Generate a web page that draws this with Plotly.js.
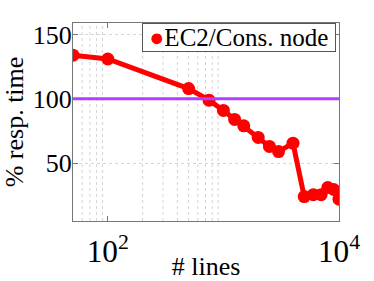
<!DOCTYPE html>
<html>
<head>
<meta charset="utf-8">
<script src="https://cdn.plot.ly/plotly-3.0.1.min.js"></script>
<style>
  html, body { margin: 0; padding: 0; background: #fff; }
  #chart { width: 374px; height: 281px; }
</style>
</head>
<body>
<div id="chart"></div>
<script>
// # lines vs. % response time (EC2 / Cons. node)
const nLines = [50, 100, 500, 750, 1000, 1250, 1500, 2000, 2500, 3000, 4000, 5000, 6000, 7000, 8000, 9000, 10000];
const respPct = [134, 131, 108, 99, 91, 84, 79, 70, 63, 59, 65.5, 24, 25.5, 25.5, 31, 29.5, 22];
const seriesName = "EC2/Cons. node";
const baseline = 100;
// dotted minor grid only drawn over the first decades, like the original
const minorGridX = [60, 70, 80, 90, 200, 300, 400, 500, 600, 700, 800, 900];

const FONT = "'Liberation Serif', 'Times New Roman', Times, serif";
const RED = "#ff0000";
const PURPLE = "#b040ff";

const traces = [
  {
    x: nLines,
    y: respPct,
    name: seriesName,
    mode: "lines+markers",
    line: { color: RED, width: 5 },
    marker: { color: RED, size: 13 },
    showlegend: false,
  },
];

const shapes = minorGridX.map((x) => ({
  type: "line",
  xref: "x",
  yref: "paper",
  x0: x,
  x1: x,
  y0: 0,
  y1: 1,
  layer: "below",
  line: { color: "#d4d4d4", width: 1, dash: "dot" },
}));
shapes.push({
  type: "line",
  xref: "paper",
  yref: "y",
  x0: 0,
  x1: 1,
  y0: baseline,
  y1: baseline,
  line: { color: PURPLE, width: 3 },
});

// compact legend box (plotly's own legend is too tall here)
const legendBox = {
  xref: "paper",
  yref: "paper",
  x: 0.99,
  y: 1,
  xanchor: "right",
  yanchor: "top",
  showarrow: false,
  text: `&nbsp;<span style="color:${RED}">●</span>${seriesName}&nbsp;`,
  font: { family: FONT, size: 25, color: "#000" },
  bgcolor: "#fff",
  bordercolor: "#555",
  borderwidth: 1,
  borderpad: 0,
};

const layout = {
  width: 374,
  height: 281,
  margin: { l: 73, r: 35, t: 23, b: 60 },
  paper_bgcolor: "#fff",
  plot_bgcolor: "#fff",
  font: { family: FONT, size: 24, color: "#000" },
  showlegend: false,
  xaxis: {
    type: "log",
    range: [Math.log10(50), 4],
    dtick: 2,
    tick0: 0,
    exponentformat: "power",
    showgrid: false,
    zeroline: false,
    showline: true,
    mirror: "ticks",
    linecolor: "#777",
    linewidth: 1,
    ticks: "inside",
    ticklen: 5,
    tickcolor: "#777",
    ticklabelstandoff: 4,
    tickfont: { family: FONT, size: 25, color: "#000" },
    title: { text: "# lines", font: { family: FONT, size: 26, color: "#000" }, standoff: 0 },
  },
  yaxis: {
    range: [5, 159],
    tickvals: [50, 100, 150],
    showgrid: true,
    gridcolor: "#d4d4d4",
    griddash: "dot",
    zeroline: false,
    showline: true,
    mirror: "ticks",
    linecolor: "#777",
    linewidth: 1,
    ticks: "inside",
    ticklen: 5,
    tickcolor: "#777",
    ticklabelstandoff: -5,
    tickfont: { family: FONT, size: 26, color: "#000" },
    title: { text: "% resp. time", font: { family: FONT, size: 26, color: "#000" }, standoff: 2 },
  },
  shapes: shapes,
  annotations: [legendBox],
};

Plotly.newPlot("chart", traces, layout, { displayModeBar: false, staticPlot: true });
</script>
</body>
</html>
